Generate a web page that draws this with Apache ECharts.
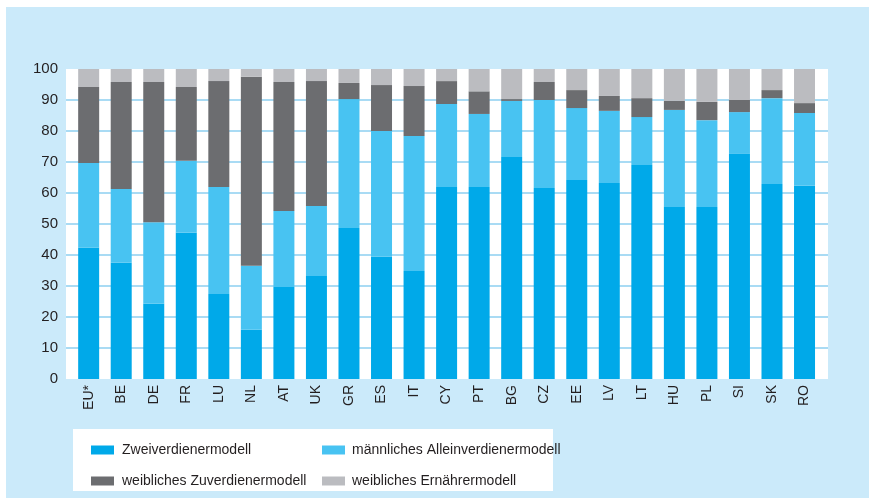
<!DOCTYPE html>
<html>
<head>
<meta charset="utf-8">
<script src="https://cdn.jsdelivr.net/npm/echarts@6/dist/echarts.min.js"></script>
<style>html,body{margin:0;padding:0;background:#fff;}#c{width:869px;height:498px;}</style>
</head>
<body>
<div id="c"></div>
<script>
const categories = ['EU*','BE','DE','FR','LU','NL','AT','UK','GR','ES','IT','CY','PT','BG','CZ','EE','LV','LT','HU','PL','SI','SK','RO'];
const zweiverdiener = [42.4,37.5,24.3,47.2,27.4,15.9,29.7,33.2,48.7,39.4,34.8,61.9,61.9,71.6,61.6,64.2,63.2,69.0,55.5,55.5,72.6,62.9,62.3];
const maennlichAllein = [27.3,23.8,26.3,23.2,34.5,20.6,24.5,22.6,41.6,40.6,43.6,26.8,23.6,18.1,28.4,23.2,23.3,15.5,31.3,28.0,13.5,27.7,23.5];
const weiblichZuverdiener = [24.5,34.5,45.2,23.8,34.2,61.0,41.6,40.3,5.2,14.8,16.1,7.4,7.3,0.6,5.8,5.8,4.8,6.1,2.9,5.9,3.9,2.6,3.2];
const weiblichErnaehrer = [5.8,4.2,4.2,5.8,3.9,2.5,4.2,3.9,4.5,5.2,5.5,3.9,7.2,9.7,4.2,6.8,8.7,9.4,10.3,10.6,10.0,6.8,11.0];
const seriesNames = ['Zweiverdienermodell','männliches Alleinverdienermodell','weibliches Zuverdienermodell','weibliches Ernährermodell'];
const colors = ['#00a9e9','#48c3f2','#6c6d70','#bbbcc0'];
const yTicks = [0,10,20,30,40,50,60,70,80,90,100];

const FONT = '"Liberation Sans",Arial,sans-serif';
const chart = echarts.init(document.getElementById('c'));
const seriesData = [zweiverdiener, maennlichAllein, weiblichZuverdiener, weiblichErnaehrer];
const lineColors = yTicks.map((t,i)=> (i===0||i===yTicks.length-1) ? 'rgba(0,0,0,0)' : '#a9dbf4');

chart.setOption({
  backgroundColor: '#cbeafa',
  animation: false,
  color: colors,
  graphic: [
    {type:'rect', shape:{x:0,y:0,width:869,height:7}, style:{fill:'#fff'}},
    {type:'rect', shape:{x:0,y:0,width:6,height:498}, style:{fill:'#fff'}},
    {type:'rect', shape:{x:73,y:429,width:480,height:62}, style:{fill:'#fff'}}
  ],
  grid: [
    {left:72.4, right:48.2, top:69, bottom:119},
    {left:66, right:41, top:69, bottom:119, show:true, backgroundColor:'#fff', borderWidth:0}
  ],
  legend: [
    {orient:'vertical', left:86, top:436, itemWidth:23, itemHeight:9, itemGap:13,
     icon:'rect', data:[seriesNames[0], seriesNames[2]],
     textStyle:{fontFamily:FONT, fontSize:14, lineHeight:18, color:'#231f20', padding:[0,0,0,3]}},
    {orient:'vertical', left:317, top:436, itemWidth:23, itemHeight:9, itemGap:13,
     icon:'rect', data:[seriesNames[1], seriesNames[3]],
     textStyle:{fontFamily:FONT, fontSize:14, lineHeight:18, color:'#231f20', padding:[0,0,0,2]}}
  ],
  xAxis: [
    {type:'category', gridIndex:0, data:categories, boundaryGap:true,
     axisLine:{show:false}, axisTick:{show:false},
     axisLabel:{rotate:90, margin:6, fontFamily:FONT, fontSize:14, color:'#231f20', interval:0}},
    {type:'value', gridIndex:1, show:false, min:0, max:1}
  ],
  yAxis: [
    {type:'value', gridIndex:0, min:0, max:100, interval:10, show:false, splitLine:{show:false}},
    {type:'value', gridIndex:1, min:0, max:100, interval:10,
     axisLine:{show:false}, axisTick:{show:false},
     axisLabel:{margin:8, fontFamily:FONT, fontSize:15, color:'#231f20'},
     splitLine:{show:true, lineStyle:{color:lineColors, width:2}}}
  ],
  series: seriesData.map((d,i)=>({
    name: seriesNames[i], type:'bar', stack:'total', xAxisIndex:0, yAxisIndex:0,
    barWidth:21, data:d, itemStyle:{color:colors[i]}, emphasis:{disabled:true}
  }))
});
</script>
</body>
</html>
